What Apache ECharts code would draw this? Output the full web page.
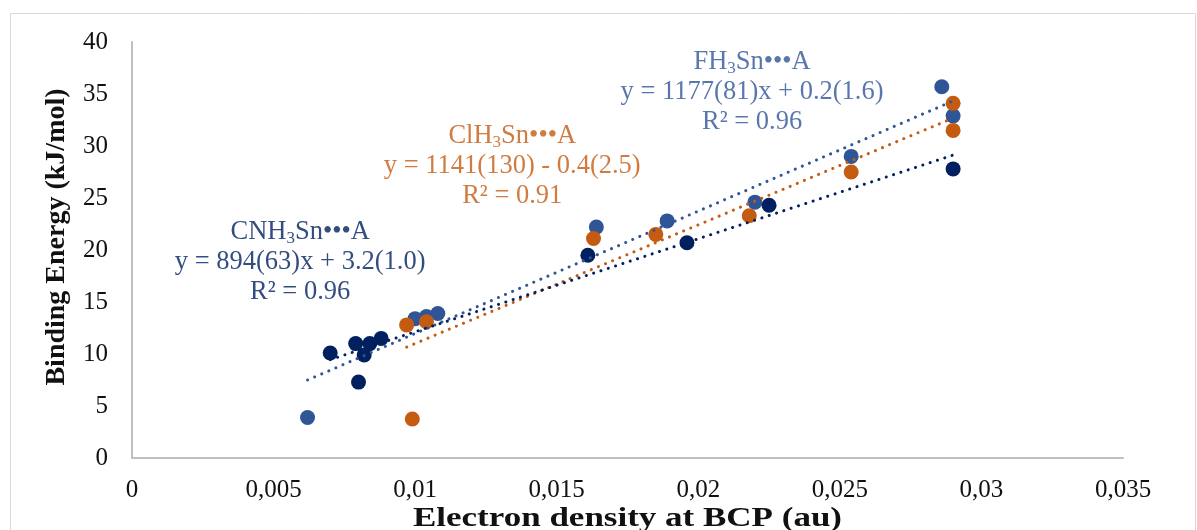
<!DOCTYPE html>
<html>
<head>
<meta charset="utf-8">
<script src="https://cdn.jsdelivr.net/npm/echarts@6/dist/echarts.min.js"></script>
<style>
html,body{margin:0;padding:0;background:#fff;}
#c{width:1197px;height:530px;}
</style>
</head>
<body>
<div id="c"></div>
<script>
// ---- data ----
const seriesNames = ['FH3Sn•••A', 'ClH3Sn•••A', 'CNH3Sn•••A'];
const fhPoints = [[0.0062, 3.9], [0.0100, 13.4], [0.0104, 13.6], [0.0108, 13.9], [0.0164, 22.2], [0.0189, 22.8], [0.0220, 24.6], [0.0254, 29.0], [0.0286, 35.7], [0.0290, 32.9]];
const clPoints = [[0.0097, 12.8], [0.0104, 13.1], [0.0099, 3.75], [0.0163, 21.1], [0.0185, 21.5], [0.0218, 23.3], [0.0254, 27.5], [0.0290, 34.1], [0.0290, 31.5]];
const cnPoints = [[0.0070, 10.1], [0.0079, 11.0], [0.0082, 9.9], [0.0084, 11.0], [0.0088, 11.5], [0.0080, 7.3], [0.0161, 19.5], [0.0196, 20.7], [0.0225, 24.3], [0.0290, 27.8]];
// regression fits as printed on the chart: [slope, intercept]
const fhFit = [1177, 0.2];
const clFit = [1141, -0.4];
const cnFit = [894, 3.2];
// annotation texts
const fhLabel = ['FH', '3', 'Sn•••A', 'y = 1177(81)x + 0.2(1.6)', 'R² = 0.96'];
const clLabel = ['ClH', '3', 'Sn•••A', 'y = 1141(130) - 0.4(2.5)', 'R² = 0.91'];
const cnLabel = ['CNH', '3', 'Sn•••A', 'y = 894(63)x + 3.2(1.0)', 'R² = 0.96'];
// annotation anchor (centre of text block) in data units
const fhAnchor = [0.0219, 35.2];
const clAnchor = [0.01343, 28.1];
const cnAnchor = [0.00594, 18.8];
const xTicks = [0, 0.035, 0.005];
const yTicks = [0, 40, 5];
const xTitle = 'Electron density at BCP (au)';
const yTitle = 'Binding Energy (kJ/mol)';

const colors = { fh: '#2F5597', cl: '#C55A11', cn: '#002060' };
const FONT = '"Liberation Serif", "Times New Roman", serif';
const GRID = { left: 132, right: 74, top: 42, bottom: 72 };
const W = 1197;

function trend(points, fit) {
  const xs = points.map(p => p[0]);
  const x0 = Math.min.apply(null, xs), x1 = Math.max.apply(null, xs);
  return [[x0, fit[0] * x0 + fit[1]], [x1, fit[0] * x1 + fit[1]]];
}
function scatter(name, pts, color, z) {
  return { name: name, type: 'scatter', data: pts, symbol: 'circle', symbolSize: 15, z: z,
    itemStyle: { color: color, opacity: 1 }, emphasis: { disabled: true } };
}
function trendSeries(pts, fit, color) {
  return { type: 'line', data: trend(pts, fit), symbol: 'none', z: 10, silent: true,
    lineStyle: { color: color, width: 3, type: [0.1, 7.6], cap: 'round' } };
}
function annot(anchor, lbl, color) {
  return { type: 'scatter', data: [anchor], symbolSize: 0, z: 20, silent: true,
    label: { show: true, position: 'inside',
      formatter: '{t|' + lbl[0] + '}{s|' + lbl[1] + '}{t|' + lbl[2] + '}\n{t|' + lbl[3] + '}\n{t|' + lbl[4] + '}',
      rich: {
        t: { fontFamily: FONT, fontSize: 26.5, lineHeight: 30, color: color },
        s: { fontFamily: FONT, fontSize: 17, lineHeight: 30, color: color, verticalAlign: 'bottom' }
      },
      align: 'center', verticalAlign: 'middle' } };
}

const chart = echarts.init(document.getElementById('c'), null, { renderer: 'canvas' });
chart.setOption({
  animation: false,
  backgroundColor: '#fff',
  graphic: [
    { type: 'rect', shape: { x: 10.5, y: 13.5, width: 1185, height: 530 }, style: { fill: 'none', stroke: '#d9d9d9', lineWidth: 1 }, silent: true },
    { type: 'text', x: GRID.left + (W - GRID.left - GRID.right) / 2, y: 519, scaleX: 1.25, silent: true,
      style: { text: xTitle, font: 'bold 28px ' + FONT, fill: '#111', textAlign: 'center', textVerticalAlign: 'middle' } }
  ],
  grid: { left: GRID.left, right: GRID.right, top: GRID.top, bottom: GRID.bottom, containLabel: false, outerBoundsMode: 'none' },
  xAxis: {
    type: 'value', min: xTicks[0], max: xTicks[1], interval: xTicks[2],
    axisLine: { show: true, onZero: false, lineStyle: { color: '#bfbfbf', width: 2 } },
    axisTick: { show: false }, splitLine: { show: false },
    axisLabel: { margin: 20, fontFamily: FONT, fontSize: 25, color: '#111',
      formatter: v => String(parseFloat(v.toFixed(4))).replace('.', ',') }
  },
  yAxis: {
    type: 'value', min: yTicks[0], max: yTicks[1], interval: yTicks[2],
    axisLine: { show: true, onZero: false, lineStyle: { color: '#bfbfbf', width: 2 } },
    axisTick: { show: false }, splitLine: { show: false },
    axisLabel: { margin: 24, fontFamily: FONT, fontSize: 25, color: '#111' },
    name: yTitle, nameLocation: 'middle', nameGap: 61, nameRotate: 90,
    nameTextStyle: { fontFamily: FONT, fontSize: 28, fontWeight: 'bold', color: '#111', padding: [0, 0, 0, 26] }
  },
  series: [
    scatter(seriesNames[0], fhPoints, colors.fh, 2),
    scatter(seriesNames[1], clPoints, colors.cl, 3),
    scatter(seriesNames[2], cnPoints, colors.cn, 4),
    trendSeries(fhPoints, fhFit, colors.fh),
    trendSeries(clPoints, clFit, colors.cl),
    trendSeries(cnPoints, cnFit, colors.cn),
    annot(fhAnchor, fhLabel, colors.fh),
    annot(clAnchor, clLabel, colors.cl),
    annot(cnAnchor, cnLabel, colors.cn)
  ]
});
</script>
</body>
</html>
